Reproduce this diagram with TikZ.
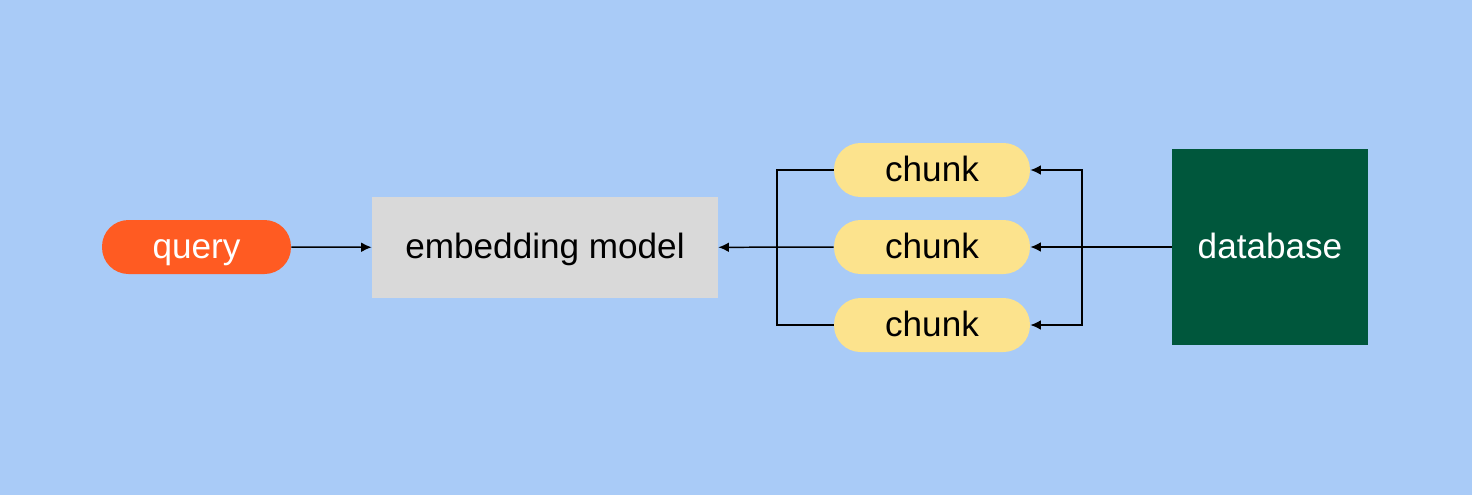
\documentclass[tikz,border=0pt]{standalone}
\usepackage{fontspec}
\setmainfont{Liberation Sans}
\usetikzlibrary{calc}
\usetikzlibrary{arrows.meta}
\definecolor{skyback}{HTML}{A9CBF7}
\definecolor{queryorange}{HTML}{FF5B22}
\definecolor{modelgray}{HTML}{D9D9D9}
\definecolor{chunkyellow}{HTML}{FCE38D}
\definecolor{dbgreen}{HTML}{00573C}
\newcommand\labelfont[0]{\fontsize{20}{24}\selectfont}

\begin{document}
\begin{tikzpicture}[x=0.02cm, y=-0.02cm,
  pill/.style={minimum width=3.8cm, minimum height=1.08cm, rounded corners=0.53cm, inner sep=0pt, font=\labelfont, text height=15.5pt, text depth=2.5pt},
  box/.style={inner sep=0pt, font=\labelfont, text height=15.5pt, text depth=2.5pt},
  link/.style={black, line width=0.85pt},
  tip/.style={link, -{Latex[length=6pt,width=5.5pt]}}]
\fill[skyback] (0,0) rectangle (1472,495);
\node[pill, fill=queryorange, text=white, minimum width=3.78cm] (query) at (196.5,247) {query};
\node[box, fill=modelgray, minimum width=6.92cm, minimum height=2.02cm] (model) at (545,247.5) {embedding model};
\node[pill, fill=chunkyellow, minimum width=3.92cm] (chunkA) at (932,170) {chunk};
\node[pill, fill=chunkyellow, minimum width=3.92cm] (chunkB) at (932,247) {chunk};
\node[pill, fill=chunkyellow, minimum width=3.92cm] (chunkC) at (932,325) {chunk};
\node[box, fill=dbgreen, text=white, minimum width=3.92cm, minimum height=3.92cm] (db) at (1270,247) {database};
\coordinate (join) at (777,247);
\coordinate (split) at (1082,247);
%\draw[link] (chunkA) -- (chunkC);
\draw[tip] (query) -- (model);
\draw[tip] (chunkB) -- (model);
\draw[link] (chunkA.west) -| (join) |- (chunkC.west);
\draw[tip] (db) -- (chunkB);
\draw[tip] (split) |- (chunkA.east);
\draw[tip] (split) |- (chunkC.east);
\end{tikzpicture}
\end{document}
